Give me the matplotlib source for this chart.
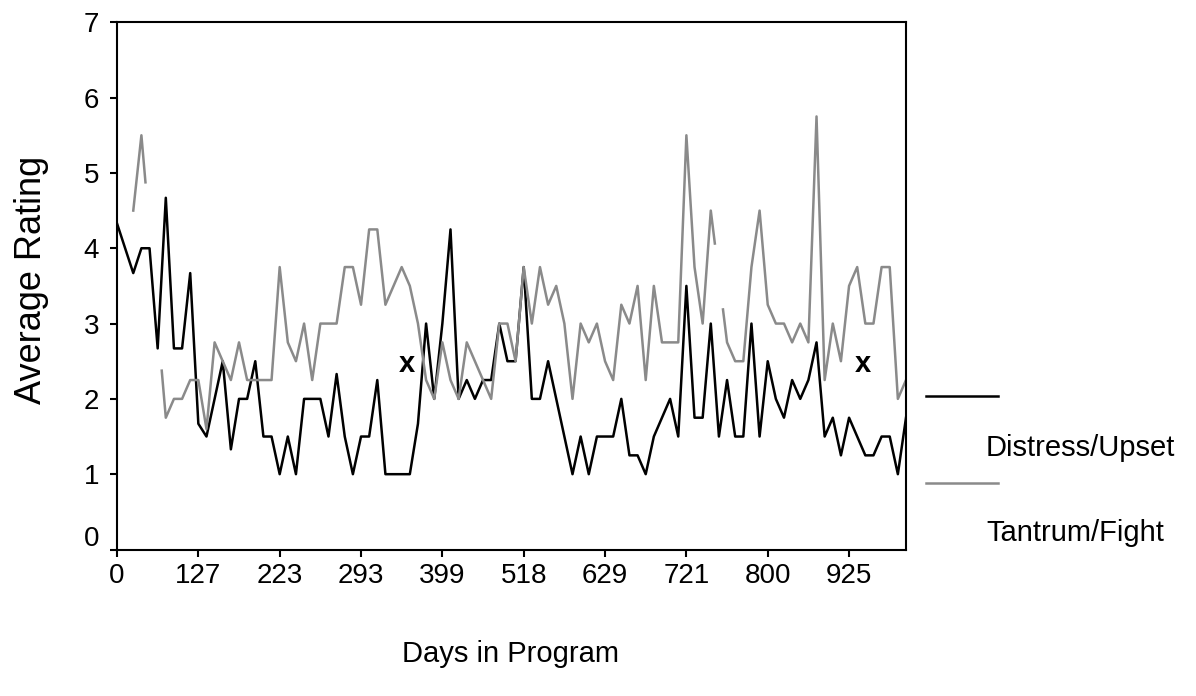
import numpy as np
import matplotlib
matplotlib.use("Agg")
import matplotlib.pyplot as plt
from matplotlib.lines import Line2D
from matplotlib.transforms import ScaledTranslation

# ratings per session (one value per category slot)
distress = [4.33, 4.0, 3.67, 4.0, 4.0, 2.67, 4.67, 2.67, 2.67, 3.67,
            1.67, 1.5, 2.0, 2.5, 1.33, 2.0, 2.0, 2.5, 1.5, 1.5,
            1.0, 1.5, 1.0, 2.0, 2.0, 2.0, 1.5, 2.33, 1.5, 1.0,
            1.5, 1.5, 2.25, 1.0, 1.0, 1.0, 1.0, 1.67, 3.0, 2.0,
            3.0, 4.25, 2.0, 2.25, 2.0, 2.25, 2.25, 3.0, 2.5, 2.5,
            3.75, 2.0, 2.0, 2.5, 2.0, 1.5, 1.0, 1.5, 1.0, 1.5,
            1.5, 1.5, 2.0, 1.25, 1.25, 1.0, 1.5, 1.75, 2.0, 1.5,
            3.5, 1.75, 1.75, 3.0, 1.5, 2.25, 1.5, 1.5, 3.0, 1.5,
            2.5, 2.0, 1.75, 2.25, 2.0, 2.25, 2.75, 1.5, 1.75, 1.25,
            1.75, 1.5, 1.25, 1.25, 1.5, 1.5, 1.0, 1.75]

nan = np.nan
tantrum = [nan, nan, 4.5, 5.5, nan, nan, 1.75, 2.0, 2.0, 2.25,
           2.25, 1.6, 2.75, 2.5, 2.25, 2.75, 2.25, 2.25, 2.25, 2.25,
           3.75, 2.75, 2.5, 3.0, 2.25, 3.0, 3.0, 3.0, 3.75, 3.75,
           3.25, 4.25, 4.25, 3.25, 3.5, 3.75, 3.5, 3.0, 2.25, 2.0,
           2.75, 2.25, 2.0, 2.75, 2.5, 2.25, 2.0, 3.0, 3.0, 2.5,
           3.75, 3.0, 3.75, 3.25, 3.5, 3.0, 2.0, 3.0, 2.75, 3.0,
           2.5, 2.25, 3.25, 3.0, 3.5, 2.25, 3.5, 2.75, 2.75, 2.75,
           5.5, 3.75, 3.0, 4.5, nan, 2.75, 2.5, 2.5, 3.75, 4.5,
           3.25, 3.0, 3.0, 2.75, 3.0, 2.75, 5.75, 2.25, 3.0, 2.5,
           3.5, 3.75, 3.0, 3.0, 3.75, 3.75, 2.0, 2.25]

tick_slots = [0, 10, 20, 30, 40, 50, 60, 70, 80, 90]
tick_days = ['0', '127', '223', '293', '399', '518', '629', '721', '800', '925']

phase_x = [35.7, 91.7]   # bold "x" phase marks
phase_y = 2.46

GRAY = '#8a8a8a'
plt.rcParams['font.family'] = ['Liberation Sans', 'DejaVu Sans']

idx = np.arange(len(distress))
t = np.array(tantrum)
ok = ~np.isnan(t)
# the original package draws a half segment from a valid point toward an
# interior missing one (as if the gap were bridged), then breaks the line
bridge = np.interp(idx, idx[ok], t[ok])
inner = (idx > idx[ok][0]) & (idx < idx[ok][-1])
gx, gy = [], []
for k in idx:
    if ok[k]:
        gx.append(k); gy.append(t[k])
    elif inner[k]:
        if ok[k - 1]:
            gx.append(k - 0.5); gy.append((bridge[k - 1] + bridge[k]) / 2)
        gx.append(nan); gy.append(nan)
        if ok[k + 1]:
            gx.append(k + 0.5); gy.append((bridge[k] + bridge[k + 1]) / 2)
    else:
        gx.append(nan); gy.append(nan)

W, H = 1196, 696
fig = plt.figure(figsize=(W / 100, H / 100), dpi=100)
ax = fig.add_axes([117 / W, 1 - 549.5 / H, (906 - 117) / W, (549.5 - 22.3) / H])

ax.plot(idx, distress, color='black', lw=1.8)
ax.plot(gx, gy, color=GRAY, lw=1.8)

for px in phase_x:
    ax.text(px, phase_y, 'x', fontsize=21, fontweight='bold', ha='center', va='center')

ax.set_xlim(0, len(distress) - 1)
ax.set_ylim(0, 7)
ax.set_xticks(tick_slots)
ax.set_xticklabels(tick_days)
ax.set_yticks(range(8))
for s in ax.spines.values():
    s.set_linewidth(1.5)
ax.tick_params(direction='out', length=5, width=1.5, labelsize=20, pad=5)
ax.tick_params(axis='y', pad=8)
# the zero label sits a little above its tick
zero = ax.get_yticklabels()[0]
zero.set_transform(zero.get_transform() + ScaledTranslation(0, 0.13, fig.dpi_scale_trans))

fig.text(32 / W, 1 - 280 / H, 'Average Rating', rotation=90, ha='center', va='center', fontsize=26)
fig.text(511 / W, 1 - 662 / H, 'Days in Program', ha='center', va='baseline', fontsize=21)

# legend, laid out like the original: line sample above its label
fig.add_artist(Line2D([926 / W, 998 / W], [1 - 396 / H] * 2, color='black', lw=1.8))
fig.text(986 / W, 1 - 456 / H, 'Distress/Upset', va='baseline', fontsize=21)
fig.add_artist(Line2D([926 / W, 998 / W], [1 - 483 / H] * 2, color=GRAY, lw=1.8))
fig.text(986 / W, 1 - 541 / H, 'Tantrum/Fight', va='baseline', fontsize=21)

fig.savefig('out.png', dpi=100)
